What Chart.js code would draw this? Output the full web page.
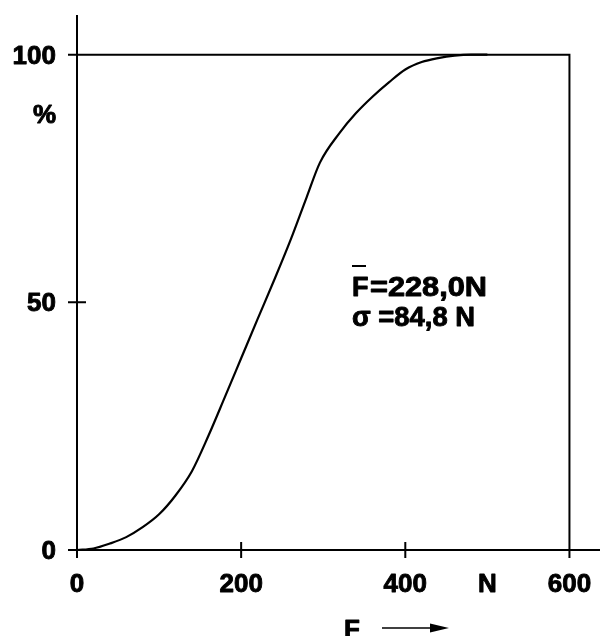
<!DOCTYPE html>
<html>
<head>
<meta charset="utf-8">
<script src="https://cdn.jsdelivr.net/npm/chart.js@4.4.1/dist/chart.umd.min.js"></script>
<style>
html,body{margin:0;padding:0;background:#fff;}
#wrap{width:600px;height:636px;position:relative;}
</style>
</head>
<body>
<div id="wrap"><canvas id="c" width="600" height="636"></canvas></div>
<script>
// Data
const forceN = [0, 20, 40, 60, 80, 100, 120, 140, 160, 180, 200, 220, 240, 260, 280, 296, 320, 340, 360, 380, 400, 420, 440, 460, 480, 500];
const cumPercent = [0, 0.3, 1.3, 2.6, 4.6, 7.2, 11.0, 15.9, 23.0, 30.8, 38.7, 46.6, 54.4, 62.5, 71.3, 78.2, 84.2, 88.2, 91.5, 94.4, 97.0, 98.5, 99.3, 99.8, 100, 100];
const xTickValues = [0, 200, 400, 500, 600];
const xTickLabels = ["0", "200", "400", "N", "600"];
const xTickMarks = [200, 400];
const yTickValues = [0, 50, 88, 100];
const yTickLabels = ["0", "50", "%", "100"];
const yTickMarks = [50];
const statLines = ["F", "=228,0N", "\u03c3 =84,8 N"];
const axisTitle = "F";

const FONT = 'bold 26px "Liberation Sans", Arial, sans-serif';

const drawPlugin = {
  id: 'drawPlugin',
  afterDatasetsDraw(chart) {
    const ctx = chart.ctx;
    const xs = chart.scales.x, ys = chart.scales.y;
    const ca = chart.chartArea;
    const x0 = xs.getPixelForValue(0), y0 = ys.getPixelForValue(0);
    const x600 = xs.getPixelForValue(600), y100 = ys.getPixelForValue(100);
    ctx.save();
    ctx.strokeStyle = '#000';
    ctx.lineWidth = 2;
    ctx.lineCap = 'butt';
    ctx.beginPath();
    // y axis
    ctx.moveTo(x0, ca.top); ctx.lineTo(x0, y0 + 8);
    // x axis
    ctx.moveTo(x0 - 9, y0); ctx.lineTo(ca.right + 1, y0);
    // top frame at 100 %
    ctx.moveTo(x0 - 9, y100); ctx.lineTo(x600 + 1, y100);
    // right frame at 600 N
    ctx.moveTo(x600, y100); ctx.lineTo(x600, y0 + 8);
    xTickMarks.forEach(v => {
      const px = xs.getPixelForValue(v);
      ctx.moveTo(px, y0 - 8); ctx.lineTo(px, y0 + 8);
    });
    yTickMarks.forEach(v => {
      const py = ys.getPixelForValue(v);
      ctx.moveTo(x0 - 9, py); ctx.lineTo(x0 + 9, py);
    });
    ctx.stroke();

    ctx.fillStyle = '#000';
    ctx.lineWidth = 0.9;
    ctx.lineJoin = 'round';
    ctx.font = FONT;
    ctx.textBaseline = 'alphabetic';
    const txt = (s, x, y) => { ctx.fillText(s, x, y); ctx.strokeText(s, x, y); };
    // y labels
    ctx.textAlign = 'right';
    yTickValues.forEach((v, i) => {
      const py = ys.getPixelForValue(v);
      txt(yTickLabels[i], x0 - 21, py + 9);
    });
    // x labels
    ctx.textAlign = 'center';
    xTickValues.forEach((v, i) => {
      const px = xs.getPixelForValue(v);
      txt(xTickLabels[i], px, y0 + 42);
    });
    // axis title with arrow
    txt(axisTitle, 352, y0 + 88);
    ctx.beginPath();
    ctx.lineWidth = 1.5;
    ctx.moveTo(382, 628); ctx.lineTo(435, 628);
    ctx.stroke();
    ctx.beginPath();
    ctx.moveTo(449, 628); ctx.lineTo(430, 623.5); ctx.lineTo(430, 632.5); ctx.closePath();
    ctx.fill();

    // statistics annotation
    ctx.lineWidth = 0.9;
    ctx.textAlign = 'left';
    ctx.font = 'bold 27px "Liberation Sans", Arial, sans-serif';
    const tx = 352;
    txt(statLines[0], tx, 296);
    ctx.fillRect(tx, 265, 14, 2);
    const drawSq = (s, x, y, w) => {
      const m = ctx.measureText(s).width;
      ctx.save();
      ctx.translate(x, y);
      ctx.scale(w / m, 1);
      ctx.fillText(s, 0, 0);
      ctx.strokeText(s, 0, 0);
      ctx.restore();
    };
    drawSq(statLines[1], tx + 18, 296, 117);
    drawSq(statLines[2], tx, 326, 123);
    ctx.restore();
  }
};

new Chart(document.getElementById('c'), {
  type: 'scatter',
  data: {
    datasets: [{
      data: forceN.map((f, i) => ({x: f, y: cumPercent[i]})),
      showLine: true,
      borderColor: '#000',
      borderWidth: 2.2,
      pointRadius: 0,
      fill: false,
      cubicInterpolationMode: 'monotone'
    }]
  },
  options: {
    responsive: false,
    animation: false,
    devicePixelRatio: 1,
    layout: {padding: {left: 77, right: 1, top: 15, bottom: 86}},
    plugins: {legend: {display: false}, tooltip: {enabled: false}},
    scales: {
      x: {type: 'linear', min: 0, max: 636, display: false},
      y: {type: 'linear', min: 0, max: 108, display: false}
    }
  },
  plugins: [drawPlugin]
});
</script>
</body>
</html>
